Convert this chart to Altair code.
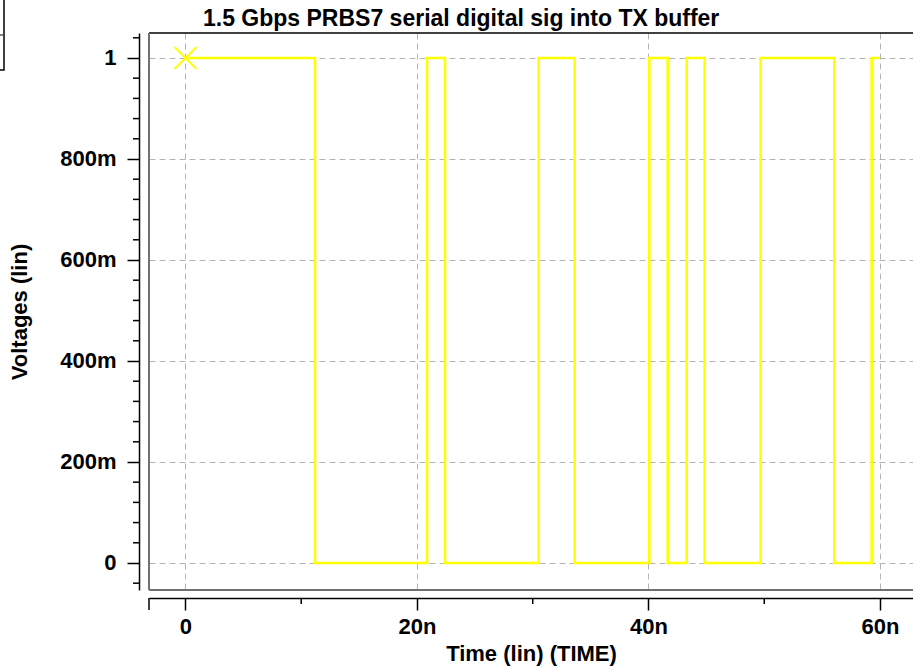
import altair as alt
import pandas as pd

# Transition instants of the PRBS7 stream (ns) and the level held after each one (V)
edge_times = [0.0, 11.19, 20.87, 22.42, 30.51, 33.62, 40.07, 41.66, 43.30, 44.85, 49.69, 56.05, 59.28, 60.0]
edge_levels = [1, 0, 1, 0, 1, 0, 1, 0, 1, 0, 1, 0, 1, 1]

# Start-of-trace marker
marker_time = [0.0]
marker_level = [1.0]

# Axis tick positions
x_major = [0, 20, 40, 60]
x_minor = [10, 30, 50]
y_major = [0, 0.2, 0.4, 0.6, 0.8, 1.0]
y_minor = [round(k * 0.04, 2) for k in range(-1, 27) if k % 5]

TITLE = "1.5 Gbps PRBS7 serial digital sig into TX buffer"
FONT = "Liberation Sans"
W, H = 764, 557
X_DOMAIN = [-3.15, 62.85]
Y_DOMAIN = [-0.0535, 1.0495]

wave = pd.DataFrame({"t": edge_times, "v": edge_levels})
marker = pd.DataFrame({"t": marker_time, "v": marker_level})
xminor = pd.DataFrame({"t": x_minor})
yminor = pd.DataFrame({"v": y_minor})
one = pd.DataFrame({"k": [0]})

x_scale = alt.Scale(domain=X_DOMAIN, nice=False, zero=False)
y_scale = alt.Scale(domain=Y_DOMAIN, nice=False, zero=False)

x_axis = alt.Axis(
    values=x_major, offset=8, tickSize=12, tickWidth=1.5, tickColor="black",
    domainColor="black", domainWidth=1.5,
    labelExpr="datum.value == 0 ? '0' : datum.value + 'n'",
    labelFont=FONT, labelFontSize=22, labelFontWeight="bold", labelColor="black",
    labelPadding=6, labelFlush=False,
    grid=True, gridDash=[6, 4], gridColor="#b4b4b4", gridWidth=1,
    title="Time (lin) (TIME)", titleFont=FONT, titleFontSize=22,
    titleFontWeight="bold", titleColor="black", titlePadding=6,
)
y_axis = alt.Axis(
    values=y_major, offset=10, tickSize=12, tickWidth=1.5, tickColor="black",
    domainColor="black", domainWidth=1.5,
    labelExpr="datum.value == 0 ? '0' : datum.value == 1 ? '1' : round(datum.value * 1000) + 'm'",
    labelFont=FONT, labelFontSize=22, labelFontWeight="bold", labelColor="black",
    labelPadding=11, labelFlush=False,
    grid=True, gridDash=[6, 4], gridColor="#b4b4b4", gridWidth=1,
    title="Voltages (lin)", titleFont=FONT, titleFontSize=22,
    titleFontWeight="bold", titleColor="black", titlePadding=28,
)

trace = alt.Chart(wave).mark_line(
    interpolate="step-after", color="#ffff00", strokeWidth=2.6
).encode(
    x=alt.X("t:Q", scale=x_scale, axis=x_axis),
    y=alt.Y("v:Q", scale=y_scale, axis=y_axis),
)

start_mark = alt.Chart(marker).mark_point(
    shape="M-1,-1L1,1M1,-1L-1,1", size=484, filled=False,
    stroke="#ffff00", strokeWidth=1.8, opacity=1,
).encode(
    x=alt.X("t:Q", scale=x_scale, axis=x_axis),
    y=alt.Y("v:Q", scale=y_scale, axis=y_axis),
)

# Minor ticks on the offset axes
x_minor_ticks = alt.Chart(xminor).mark_rule(color="black", strokeWidth=1.5).encode(
    x=alt.X("t:Q", scale=x_scale, axis=x_axis), y=alt.value(H + 8), y2=alt.value(H + 14)
)
y_minor_ticks = alt.Chart(yminor).mark_rule(color="black", strokeWidth=1.5).encode(
    y=alt.Y("v:Q", scale=y_scale, axis=y_axis), x=alt.value(-10), x2=alt.value(-16)
)
x_end_cap = alt.Chart(one).mark_rule(color="black", strokeWidth=1.5).encode(
    x=alt.value(0), y=alt.value(H + 8), y2=alt.value(H + 20)
)

# Plot frame: dark top edge, grey left and bottom edges
frame_top = alt.Chart(one).mark_rule(color="black", strokeWidth=1.5).encode(
    x=alt.value(0), x2=alt.value(W), y=alt.value(0)
)
frame_left = alt.Chart(one).mark_rule(color="#707070", strokeWidth=2).encode(
    x=alt.value(0), y=alt.value(0), y2=alt.value(H)
)
frame_bottom = alt.Chart(one).mark_rule(color="#707070", strokeWidth=2).encode(
    x=alt.value(0), x2=alt.value(W), y=alt.value(H)
)

# Edge of the neighbouring panel box in the corner
side_box = alt.Chart(one).mark_rect(
    filled=False, stroke="black", strokeWidth=1.5, fill=None
).encode(
    x=alt.value(-160), x2=alt.value(-145), y=alt.value(-40), y2=alt.value(37)
)
side_tick = alt.Chart(one).mark_rule(color="black", strokeWidth=1).encode(
    x=alt.value(-149), x2=alt.value(-146), y=alt.value(2)
)

title = alt.Chart(one).mark_text(
    align="left", baseline="alphabetic", font=FONT, fontSize=23,
    fontWeight="bold", color="black",
).encode(x=alt.value(54), y=alt.value(-7), text=alt.value(TITLE))

chart = alt.layer(
    frame_top, frame_left, frame_bottom,
    trace, start_mark,
    x_minor_ticks, y_minor_ticks, x_end_cap,
    side_box, side_tick, title,
).properties(
    width=W, height=H,
    autosize=alt.AutoSizeParams(type="none"),
    padding={"left": 149, "top": 33, "right": 0, "bottom": 79},
    background="white",
).configure_view(stroke=None)

chart.save("out.html", embed_options={"renderer": "svg", "actions": False})
